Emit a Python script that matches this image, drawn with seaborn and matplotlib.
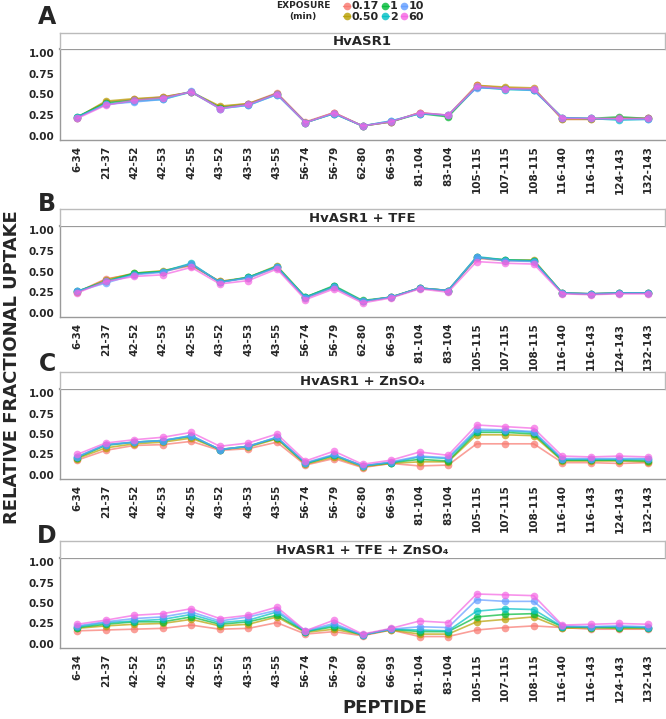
import matplotlib
matplotlib.use("Agg")
import matplotlib.pyplot as plt
from matplotlib.lines import Line2D
import seaborn as sns
import pandas as pd

peptides = ["6-34", "21-37", "42-52", "42-53", "42-55", "43-52", "43-53", "43-55",
            "56-74", "56-79", "62-80", "66-93", "81-104", "83-104", "105-115",
            "107-115", "108-115", "116-140", "116-143", "124-143", "132-143"]
exposures = ["0.17", "0.50", "1", "2", "10", "60"]
colors = ["#F8766D", "#B79F00", "#00BA38", "#00BFC4", "#619CFF", "#F564E3"]

# one row per exposure time
asr1 = [
    [0.22, 0.41, 0.44, 0.47, 0.53, 0.35, 0.39, 0.52, 0.17, 0.28, 0.12, 0.17, 0.28, 0.25, 0.61, 0.58, 0.57, 0.20, 0.20, 0.21, 0.21],
    [0.22, 0.42, 0.45, 0.47, 0.53, 0.36, 0.39, 0.51, 0.16, 0.28, 0.12, 0.17, 0.28, 0.24, 0.61, 0.59, 0.58, 0.20, 0.20, 0.22, 0.21],
    [0.23, 0.40, 0.43, 0.46, 0.53, 0.34, 0.38, 0.51, 0.16, 0.27, 0.12, 0.17, 0.27, 0.23, 0.59, 0.57, 0.56, 0.22, 0.21, 0.23, 0.21],
    [0.23, 0.38, 0.42, 0.44, 0.53, 0.33, 0.37, 0.50, 0.16, 0.27, 0.12, 0.18, 0.27, 0.25, 0.59, 0.56, 0.55, 0.22, 0.21, 0.19, 0.20],
    [0.22, 0.38, 0.41, 0.44, 0.54, 0.33, 0.37, 0.50, 0.16, 0.27, 0.12, 0.18, 0.27, 0.25, 0.58, 0.57, 0.55, 0.22, 0.21, 0.20, 0.20],
    [0.21, 0.37, 0.43, 0.46, 0.53, 0.33, 0.38, 0.51, 0.16, 0.28, 0.12, 0.17, 0.28, 0.25, 0.60, 0.57, 0.57, 0.21, 0.21, 0.21, 0.21],
]
asr1_tfe = [
    [0.25, 0.41, 0.47, 0.50, 0.57, 0.38, 0.42, 0.55, 0.18, 0.31, 0.14, 0.19, 0.30, 0.27, 0.66, 0.63, 0.63, 0.24, 0.23, 0.24, 0.24],
    [0.25, 0.40, 0.48, 0.51, 0.58, 0.38, 0.43, 0.57, 0.19, 0.32, 0.14, 0.19, 0.30, 0.27, 0.67, 0.64, 0.64, 0.24, 0.23, 0.24, 0.24],
    [0.26, 0.38, 0.48, 0.50, 0.59, 0.37, 0.43, 0.56, 0.19, 0.33, 0.15, 0.19, 0.30, 0.27, 0.67, 0.64, 0.63, 0.24, 0.23, 0.24, 0.24],
    [0.26, 0.38, 0.47, 0.50, 0.60, 0.37, 0.43, 0.56, 0.19, 0.32, 0.14, 0.19, 0.30, 0.27, 0.68, 0.64, 0.63, 0.24, 0.23, 0.24, 0.24],
    [0.26, 0.36, 0.46, 0.49, 0.59, 0.37, 0.42, 0.55, 0.18, 0.31, 0.14, 0.19, 0.30, 0.27, 0.67, 0.63, 0.62, 0.24, 0.23, 0.24, 0.24],
    [0.24, 0.38, 0.44, 0.46, 0.55, 0.35, 0.39, 0.53, 0.16, 0.29, 0.12, 0.18, 0.29, 0.25, 0.62, 0.60, 0.59, 0.23, 0.22, 0.23, 0.23],
]
asr1_zn = [
    [0.18, 0.30, 0.36, 0.37, 0.41, 0.30, 0.32, 0.40, 0.12, 0.20, 0.09, 0.14, 0.11, 0.12, 0.38, 0.38, 0.38, 0.15, 0.15, 0.14, 0.15],
    [0.20, 0.33, 0.38, 0.40, 0.45, 0.31, 0.34, 0.44, 0.13, 0.22, 0.10, 0.14, 0.16, 0.16, 0.49, 0.49, 0.48, 0.17, 0.17, 0.17, 0.16],
    [0.21, 0.36, 0.40, 0.42, 0.47, 0.31, 0.35, 0.45, 0.14, 0.24, 0.11, 0.15, 0.19, 0.17, 0.52, 0.52, 0.50, 0.18, 0.18, 0.18, 0.17],
    [0.22, 0.37, 0.40, 0.42, 0.48, 0.31, 0.35, 0.46, 0.14, 0.24, 0.11, 0.15, 0.22, 0.20, 0.54, 0.54, 0.52, 0.19, 0.19, 0.19, 0.19],
    [0.22, 0.37, 0.40, 0.42, 0.48, 0.31, 0.35, 0.46, 0.15, 0.25, 0.11, 0.16, 0.23, 0.21, 0.56, 0.55, 0.53, 0.20, 0.20, 0.20, 0.20],
    [0.25, 0.39, 0.43, 0.46, 0.52, 0.35, 0.39, 0.50, 0.17, 0.29, 0.13, 0.18, 0.28, 0.24, 0.61, 0.59, 0.57, 0.23, 0.22, 0.23, 0.22],
]
asr1_tfe_zn = [
    [0.16, 0.17, 0.18, 0.19, 0.23, 0.18, 0.19, 0.26, 0.12, 0.15, 0.10, 0.17, 0.09, 0.09, 0.17, 0.20, 0.22, 0.20, 0.18, 0.18, 0.18],
    [0.19, 0.22, 0.24, 0.25, 0.30, 0.22, 0.24, 0.33, 0.14, 0.18, 0.11, 0.17, 0.12, 0.12, 0.27, 0.30, 0.33, 0.19, 0.20, 0.19, 0.19],
    [0.20, 0.24, 0.27, 0.27, 0.33, 0.24, 0.27, 0.35, 0.15, 0.21, 0.11, 0.18, 0.15, 0.15, 0.33, 0.36, 0.37, 0.21, 0.20, 0.20, 0.20],
    [0.21, 0.26, 0.28, 0.30, 0.36, 0.26, 0.29, 0.39, 0.15, 0.23, 0.11, 0.18, 0.17, 0.16, 0.40, 0.43, 0.42, 0.21, 0.21, 0.21, 0.20],
    [0.22, 0.27, 0.31, 0.33, 0.39, 0.28, 0.33, 0.41, 0.16, 0.25, 0.11, 0.18, 0.21, 0.20, 0.54, 0.52, 0.52, 0.22, 0.21, 0.22, 0.21],
    [0.24, 0.29, 0.35, 0.37, 0.43, 0.31, 0.35, 0.45, 0.16, 0.29, 0.12, 0.19, 0.28, 0.26, 0.61, 0.60, 0.59, 0.23, 0.24, 0.25, 0.24],
]

panels = [
    ("A", "HvASR1", asr1),
    ("B", "HvASR1 + TFE", asr1_tfe),
    ("C", "HvASR1 + ZnSO₄", asr1_zn),
    ("D", "HvASR1 + TFE + ZnSO₄", asr1_tfe_zn),
]

sns.set_style("white")
plt.rcParams["font.family"] = ["DejaVu Sans"]
palette = dict(zip(exposures, colors))

W, H = 666, 719
fig = plt.figure(figsize=(W / 100, H / 100), dpi=100)

# pixel boxes: top of strip, top of panel, bottom of panel, panel letter y
boxes = [(33, 49, 140, 17), (209, 226, 317, 204), (372, 389, 479, 364), (541, 558, 648, 536)]
left, right = 60, 665
grey = "#9A9A9A"

for (letter, title, rows), (s_top, p_top, p_bot, l_y) in zip(panels, boxes):
    df = pd.DataFrame(rows, index=exposures, columns=peptides)
    df = df.reset_index().melt(id_vars="index", var_name="peptide", value_name="uptake")
    df = df.rename(columns={"index": "exposure"})

    ax = fig.add_axes([left / W, 1 - p_bot / H, (right - left) / W, (p_bot - p_top) / H])
    sns.lineplot(data=df, x="peptide", y="uptake", hue="exposure", hue_order=exposures,
                 palette=palette, marker="o", markersize=5.5, markeredgewidth=0,
                 linewidth=1.2, alpha=0.7, sort=False, legend=False, ax=ax)
    ax.set_xlim(-0.6, len(peptides) - 0.4)
    ax.set_ylim(-0.05, 1.05)
    ax.set_yticks([0, 0.25, 0.5, 0.75, 1.0])
    ax.set_yticklabels(["0.00", "0.25", "0.50", "0.75", "1.00"])
    ax.set_xlabel("")
    ax.set_ylabel("")
    ax.tick_params(axis="both", length=2.5, width=0.8, color=grey, pad=1.5)
    ax.tick_params(axis="x", labelrotation=90, labelsize=7.5)
    ax.tick_params(axis="y", labelsize=7.5)
    for lab in ax.get_xticklabels() + ax.get_yticklabels():
        lab.set_fontweight("bold")
    for side in ["left", "bottom"]:
        ax.spines[side].set_color(grey)
        ax.spines[side].set_linewidth(1.0)
    ax.spines["top"].set_color(grey)
    ax.spines["top"].set_linewidth(1.6)
    ax.spines["right"].set_visible(False)

    strip = fig.add_axes([left / W, 1 - p_top / H, (right - left) / W, (p_top - s_top) / H])
    strip.set_xticks([])
    strip.set_yticks([])
    for sp in strip.spines.values():
        sp.set_color("#BBBBBB")
        sp.set_linewidth(1.0)
    strip.spines["bottom"].set_visible(False)
    strip.text(0.5, 0.45, title, ha="center", va="center", fontsize=9.5,
               fontweight="bold", transform=strip.transAxes)

    fig.text(47 / W, 1 - l_y / H, letter, ha="center", va="center",
             fontsize=17, fontweight="bold")

fig.text(12 / W, 1 - 367 / H, "RELATIVE FRACTIONAL UPTAKE", rotation=90,
         ha="center", va="center", fontsize=13, fontweight="bold")
fig.text(385 / W, 1 - 708 / H, "PEPTIDE", ha="center", va="center",
         fontsize=13, fontweight="bold")

# legend at the top
fig.text(303 / W, 1 - 11 / H, "EXPOSURE\n(min)", ha="center", va="center",
         fontsize=6.5, fontweight="bold", linespacing=1.3)
handles = [Line2D([], [], color=c, marker="o", markersize=5.5, markeredgewidth=0,
                  linewidth=1.0, alpha=0.8) for c in colors]
fig.legend(handles, exposures, ncol=3, loc="upper left",
           bbox_to_anchor=(339 / W, 1 + 3 / H), frameon=False, handlelength=0.6,
           handletextpad=0.1, columnspacing=0.3, labelspacing=0.05,
           borderaxespad=0, prop={"size": 8, "weight": "bold"})

fig.savefig("out.png", dpi=100)
